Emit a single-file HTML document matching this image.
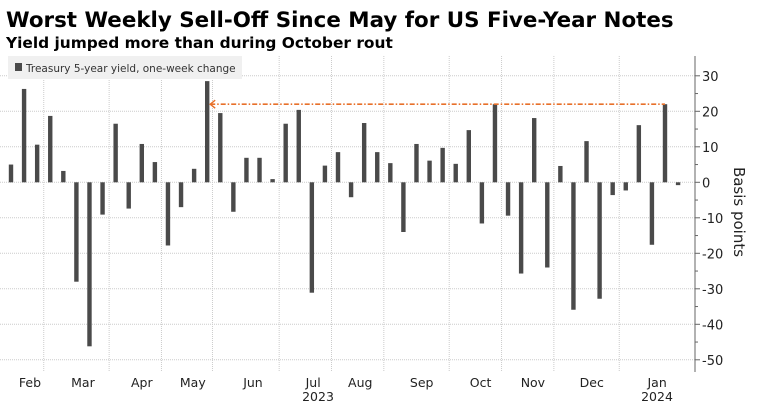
<!DOCTYPE html>
<html><head><meta charset="utf-8"><style>
body{margin:0;background:#fff;width:757px;height:408px;overflow:hidden;font-family:"Liberation Sans","DejaVu Sans",sans-serif}
</style></head><body>
<svg width="757" height="408" xmlns="http://www.w3.org/2000/svg">
<text x="6" y="27" font-size="21.4" font-weight="bold" fill="#000" font-family="DejaVu Sans, sans-serif">Worst Weekly Sell-Off Since May for US Five-Year Notes</text>
<text x="6" y="48" font-size="15.4" font-weight="bold" fill="#000" font-family="DejaVu Sans, sans-serif">Yield jumped more than during October rout</text>
<g id="grid"></g>
<g id="bars"></g>
<g id="axis"></g>
<rect x="8" y="56" width="234" height="23" fill="#f0f0f0"/>
<rect x="15" y="63" width="7" height="8" fill="#4a4a4a"/>
<text x="26" y="72" font-size="10.5" fill="#333" font-family="DejaVu Sans, sans-serif">Treasury 5-year yield, one-week change</text>
<text transform="translate(734,212) rotate(90)" text-anchor="middle" font-size="15" fill="#222" font-family="DejaVu Sans, sans-serif">Basis points</text>
</svg>
<script>
const values=[5,26.3,10.6,18.7,3.2,-28,-46.2,-9.1,16.5,-7.4,10.8,5.7,-17.8,-7,3.8,28.5,19.5,-8.3,6.9,6.9,0.9,16.5,20.4,-31.1,4.7,8.5,-4.2,16.7,8.5,5.4,-14,10.8,6.1,9.7,5.2,14.7,-11.6,22,-9.4,-25.7,18.1,-24,4.6,-35.9,11.6,-32.8,-3.6,-2.3,16.1,-17.6,22,-0.8];
const yTicks=[30,20,10,0,-10,-20,-30,-40,-50];
const monthLabels=["Feb","Mar","Apr","May","Jun","Jul","Aug","Sep","Oct","Nov","Dec","Jan"];
const monthLabelIdx=[1.45,5.5,10,13.9,18.5,23.1,26.7,31.4,35.9,39.9,44.4,49.4];
const monthBoundaryIdx=[3,8,12,15.9,21,25,29,34,38,42,47];
const refValue=22;
const NS="http://www.w3.org/2000/svg";
const y=v=>182.3-v*3.55;
const x=i=>11+i*13.08;
function mk(t,a,p){const e=document.createElementNS(NS,t);for(const k in a)e.setAttribute(k,a[k]);p.appendChild(e);return e;}
const grid=document.getElementById('grid'),bars=document.getElementById('bars'),axis=document.getElementById('axis');
for(let v=-50;v<=30;v+=5){
 const l=mk('line',{x1:0,x2:695,y1:y(v),y2:y(v),stroke:v%10===0?'#ccc':'none','stroke-dasharray':'1,1'},grid);
 
 
 const t=mk('line',{x1:695,x2:v%10===0?700:698,y1:y(v),y2:y(v),stroke:'#666'},axis);
 
 
}
monthBoundaryIdx.forEach(b=>{
 const l=mk('line',{x1:x(b)-6.5,x2:x(b)-6.5,y1:56,y2:372,stroke:'#ccc','stroke-dasharray':'1,1'},grid);
 
 
});
values.forEach((v,i)=>{
 const top=Math.min(y(v),y(0)),h=Math.max(Math.abs(y(v)-y(0)),1.2);
 const r=mk('rect',{x:x(i)-2.2,y:top,width:4.4,height:h,fill:'#4a4a4a'},bars);
 
 
});
const al=mk('line',{x1:x(15)+3,x2:x(50),y1:y(refValue),y2:y(refValue),stroke:'#e8702a','stroke-width':1.6,'stroke-dasharray':'5,2,1.5,2'},bars);


const ah=mk('path',{d:`M${x(15)+8},${y(refValue)-4} L${x(15)+3},${y(refValue)} L${x(15)+8},${y(refValue)+4}`,fill:'none',stroke:'#e8702a','stroke-width':1.4},bars);


const ax=mk('line',{x1:695,x2:695,y1:56,y2:372,stroke:'#666'},axis);


yTicks.forEach(v=>{
 const t=mk('text',{x:702,y:y(v)+5,'font-size':13,fill:'#222','font-family':'DejaVu Sans, sans-serif'},axis);
 t.textContent=(v<0?'-':'')+Math.abs(v);
 
 
});
monthLabels.forEach((m,i)=>{
 const t=mk('text',{x:x(monthLabelIdx[i]),y:387,'text-anchor':'middle','font-size':12.5,fill:'#222','font-family':'DejaVu Sans, sans-serif'},axis);
 t.textContent=m;
 
 
});
[["2023",318],["2024",657]].forEach(([s,px])=>{
 const t=mk('text',{x:px,y:401,'text-anchor':'middle','font-size':12.5,fill:'#222','font-family':'DejaVu Sans, sans-serif'},axis);
 t.textContent=s;
 
 
});
</script>
</body></html>
